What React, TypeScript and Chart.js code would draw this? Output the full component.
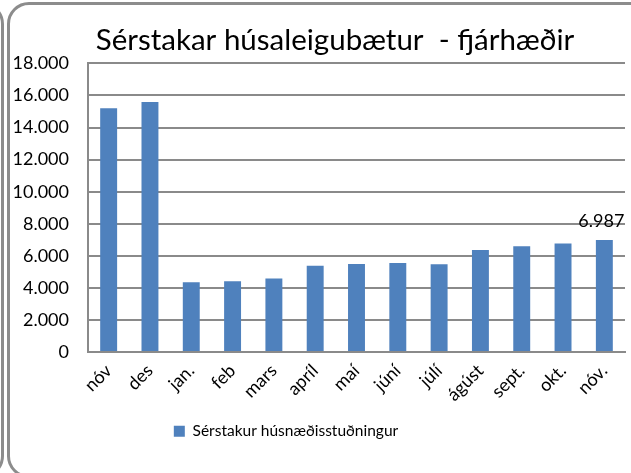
import { useEffect, useRef } from "react";
import { Chart, registerables } from "chart.js";

Chart.register(...registerables);

const chartTitle = "Sérstakar húsaleigubætur  - fjárhæðir";
const seriesLabel = "Sérstakur húsnæðisstuðningur";
const categories = ["nóv", "des", "jan.", "feb", "mars", "apríl", "maí", "júní", "júlí", "ágúst", "sept.", "okt.", "nóv."];
const values = [15200, 15600, 4350, 4420, 4590, 5380, 5490, 5560, 5480, 6370, 6600, 6770, 6987];
const yMin = 0;
const yMax = 18000;
const yStep = 2000;
const labelledIndex = [12];

const FONT = "Lato, 'Noto Sans', sans-serif";
const GRID = "#8a8a8a";
const BAR = "#4F81BD";

function fmt(n: number): string {
  return String(Math.round(n)).replace(/\B(?=(\d{3})+(?!\d))/g, ".");
}

const shiftPlugin = {
  id: "shiftBlocks",
  afterLayout(chart: any) {
    const t = chart.titleBlock;
    if (t) {
      const c = (t.left + t.right) / 2;
      const d = 335 - c;
      t.left += d;
      t.right += d;
    }
    const l = chart.legend;
    if (l) {
      const c = (l.left + l.right) / 2;
      const d = 286 - c;
      l.left += d;
      l.right += d;
    }
  },
};

const labelPlugin = {
  id: "valueLabels",
  afterDatasetsDraw(chart: any) {
    const ctx = chart.ctx;
    const meta = chart.getDatasetMeta(0);
    ctx.save();
    ctx.font = `18px ${FONT}`;
    ctx.fillStyle = "#000";
    ctx.textAlign = "center";
    ctx.textBaseline = "bottom";
    labelledIndex.forEach((i) => {
      const el = meta.data[i];
      ctx.fillText(fmt(values[i]), el.x - 3, el.y - 10);
    });
    ctx.restore();
  },
};

export default function App() {
  const ref = useRef<HTMLCanvasElement | null>(null);

  useEffect(() => {
    if (!ref.current) return;
    const chart = new Chart(ref.current, {
      type: "bar",
      data: {
        labels: categories,
        datasets: [
          {
            label: seriesLabel,
            data: values,
            backgroundColor: BAR,
            borderColor: "#9DB7DA",
            borderWidth: 0,
            categoryPercentage: 1,
            barPercentage: 0.41,
          },
        ],
      },
      options: {
        responsive: false,
        animation: false,
        layout: { padding: { top: 0, right: 6, bottom: 24, left: 0 } },
        plugins: {
          title: {
            display: true,
            text: chartTitle,
            color: "#000",
            font: { family: FONT, size: 29.5, weight: "normal" },
            padding: { top: 23, bottom: 5 },
          },
          legend: {
            display: true,
            position: "bottom",
            labels: {
              color: "#000",
              font: { family: FONT, size: 15.5 },
              boxWidth: 11,
              boxHeight: 11,
              padding: 10,
            },
          },
          tooltip: { enabled: false },
        },
        scales: {
          x: {
            grid: { display: false, drawTicks: false },
            border: { display: true, color: GRID, width: 2 },
            ticks: {
              color: "#000",
              font: { family: FONT, size: 18 },
              minRotation: 45,
              maxRotation: 45,
              padding: 8,
            },
          },
          y: {
            min: yMin,
            max: yMax,
            grid: { color: GRID, lineWidth: 2, drawTicks: false },
            border: { display: true, color: GRID, width: 2 },
            ticks: {
              stepSize: yStep,
              color: "#000",
              font: { family: FONT, size: 18 },
              padding: 19,
              callback: (v: any) => fmt(Number(v)),
            },
            afterFit: (scale: any) => {
              scale.width = 88;
            },
          },
        },
      },
      plugins: [shiftPlugin, labelPlugin],
    });
    return () => chart.destroy();
  }, []);

  const frame = {
    position: "absolute" as const,
    top: 2,
    height: 476,
    border: "3px solid #8c8c8c",
    borderRadius: 22,
    boxSizing: "border-box" as const,
  };

  return (
    <div style={{ position: "fixed", left: 0, top: 0, width: 631, height: 473, overflow: "hidden", background: "#fff" }}>
      <div style={{ ...frame, left: -600, width: 604 }} />
      <div style={{ ...frame, left: 7, width: 660 }} />
      <canvas ref={ref} width={631} height={473} style={{ position: "absolute", left: 0, top: 0, width: 631, height: 473 }} />
    </div>
  );
}
